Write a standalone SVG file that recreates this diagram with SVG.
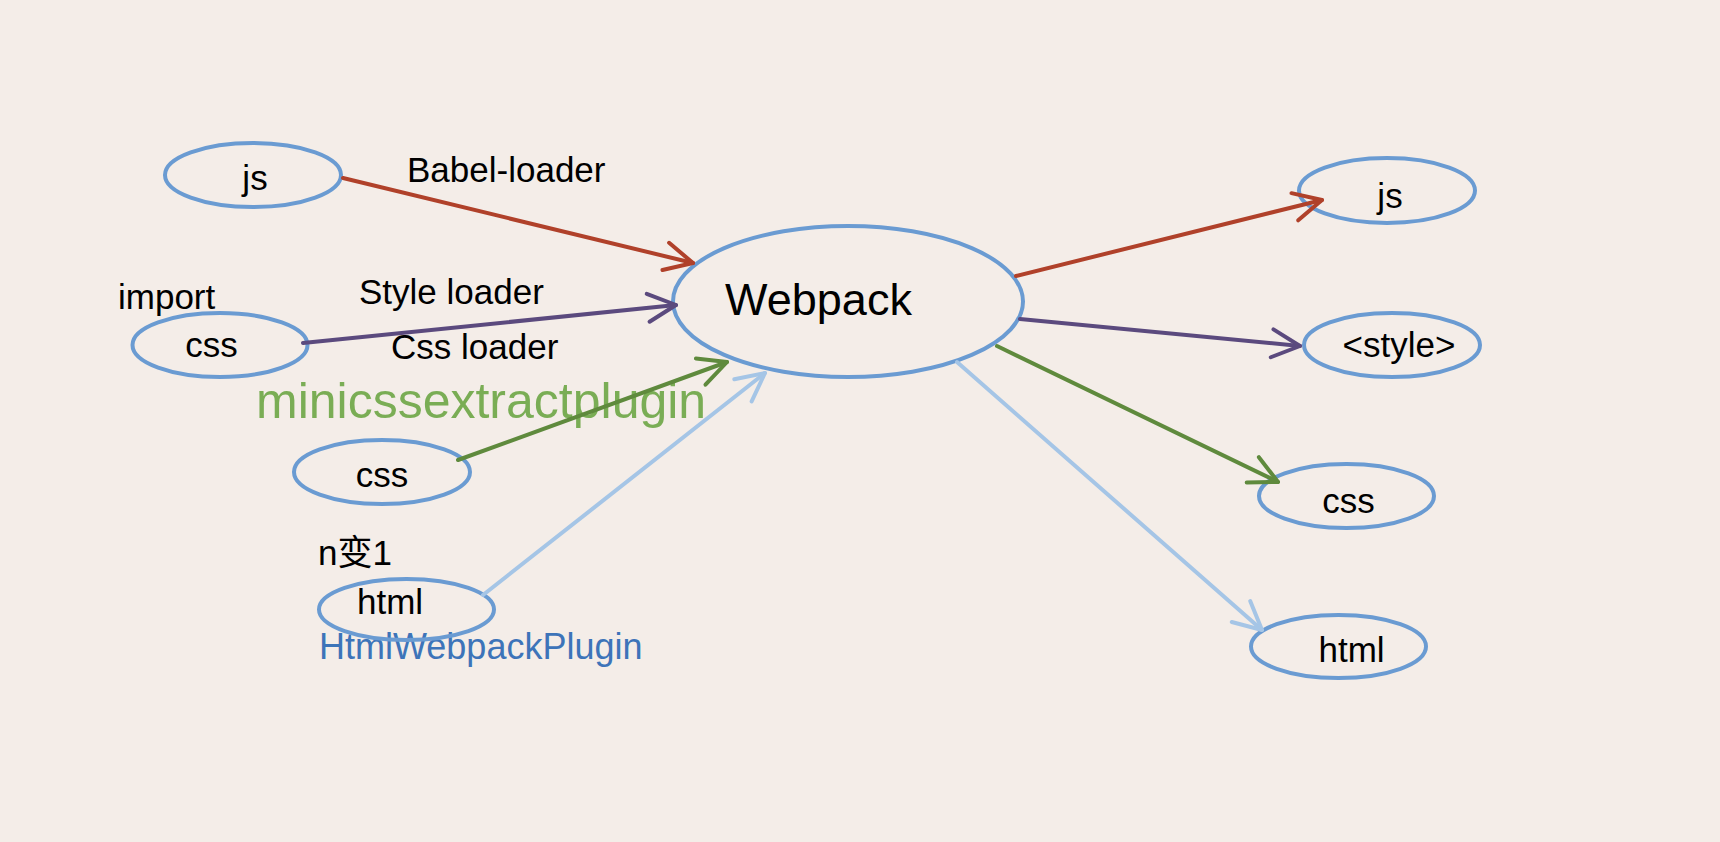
<svg xmlns="http://www.w3.org/2000/svg" width="1720" height="842" viewBox="0 0 1720 842">
<style>
.node{fill:none;stroke:#6A9BD2;stroke-width:4}
.t{font-family:"Liberation Sans","Noto Sans CJK SC",sans-serif;font-size:35px;fill:#000}
.c{text-anchor:middle}
.ln{fill:none;stroke-width:4;stroke-linecap:round}
</style>
<defs>
<marker id="mr" markerUnits="userSpaceOnUse" markerWidth="40" markerHeight="40" viewBox="-34 -20 40 40" refX="0" refY="0" orient="auto" overflow="visible"><path d="M-28,-14 L0,0 L-28,14" fill="none" stroke="#B0412A" stroke-width="4" stroke-linecap="round" stroke-linejoin="round"/></marker>
<marker id="mp" markerUnits="userSpaceOnUse" markerWidth="40" markerHeight="40" viewBox="-34 -20 40 40" refX="0" refY="0" orient="auto" overflow="visible"><path d="M-28,-14 L0,0 L-28,14" fill="none" stroke="#5B4A7E" stroke-width="4" stroke-linecap="round" stroke-linejoin="round"/></marker>
<marker id="mg" markerUnits="userSpaceOnUse" markerWidth="40" markerHeight="40" viewBox="-34 -20 40 40" refX="0" refY="0" orient="auto" overflow="visible"><path d="M-28,-14 L0,0 L-28,14" fill="none" stroke="#5F8A3D" stroke-width="4" stroke-linecap="round" stroke-linejoin="round"/></marker>
<marker id="mb" markerUnits="userSpaceOnUse" markerWidth="40" markerHeight="40" viewBox="-34 -20 40 40" refX="0" refY="0" orient="auto" overflow="visible"><path d="M-28,-14 L0,0 L-28,14" fill="none" stroke="#A5C5E6" stroke-width="4" stroke-linecap="round" stroke-linejoin="round"/></marker>
</defs>
<rect x="0" y="0" width="1720" height="842" fill="#F4EDE8"/>
<text class="t" x="407" y="182">Babel-loader</text>
<text class="t" x="118" y="309">import</text>
<text class="t" x="359" y="304">Style loader</text>
<text class="t" x="391" y="359">Css loader</text>
<text class="t" x="256" y="418" style="font-size:50px;fill:#7AAD55">minicssextractplugin</text>
<text class="t" x="318" y="565">n变1</text>
<text class="t" x="319" y="659" style="font-size:36px;fill:#3D74B9">HtmlWebpackPlugin</text>
<g id="in-js"><ellipse class="node" cx="253" cy="175" rx="88" ry="32"/><text class="t c" x="255" y="190">js</text></g>
<g id="in-css1"><ellipse class="node" cx="220" cy="345" rx="87.5" ry="32"/><text class="t c" x="211.5" y="357">css</text></g>
<g id="in-css2"><ellipse class="node" cx="382" cy="472" rx="88" ry="32"/><text class="t c" x="382" y="487">css</text></g>
<g id="in-html"><ellipse class="node" cx="406.5" cy="609.5" rx="87.5" ry="30.5"/><text class="t c" x="390" y="614">html</text></g>
<g id="webpack"><ellipse class="node" cx="848" cy="301.5" rx="175" ry="75.5"/><text class="t c" x="818.5" y="315" style="font-size:45px">Webpack</text></g>
<g id="out-js"><ellipse class="node" cx="1387" cy="190.5" rx="88" ry="32.5"/><text class="t c" x="1390" y="208">js</text></g>
<g id="out-style"><ellipse class="node" cx="1392" cy="345" rx="88" ry="32"/><text class="t c" x="1399" y="357">&lt;style&gt;</text></g>
<g id="out-css"><ellipse class="node" cx="1346.5" cy="496" rx="87.5" ry="32"/><text class="t c" x="1348.5" y="513">css</text></g>
<g id="out-html"><ellipse class="node" cx="1338.5" cy="646.5" rx="87.5" ry="31.5"/><text class="t c" x="1351.5" y="662">html</text></g>
<g id="connectors">
<line class="ln" x1="343" y1="178" x2="693" y2="263" stroke="#B0412A" marker-end="url(#mr)"/>
<line class="ln" x1="303" y1="343" x2="676" y2="305" stroke="#5B4A7E" marker-end="url(#mp)"/>
<line class="ln" x1="458" y1="460" x2="727" y2="362" stroke="#5F8A3D" marker-end="url(#mg)"/>
<line class="ln" x1="483" y1="595" x2="765" y2="373" stroke="#A5C5E6" marker-end="url(#mb)"/>
<line class="ln" x1="1016" y1="276" x2="1322" y2="200" stroke="#B0412A" marker-end="url(#mr)"/>
<line class="ln" x1="1020" y1="319" x2="1300" y2="346" stroke="#5B4A7E" marker-end="url(#mp)"/>
<line class="ln" x1="997" y1="346" x2="1278" y2="482" stroke="#5F8A3D" marker-end="url(#mg)"/>
<line class="ln" x1="957" y1="362" x2="1262" y2="630" stroke="#A5C5E6" marker-end="url(#mb)"/>
</g>
</svg>
